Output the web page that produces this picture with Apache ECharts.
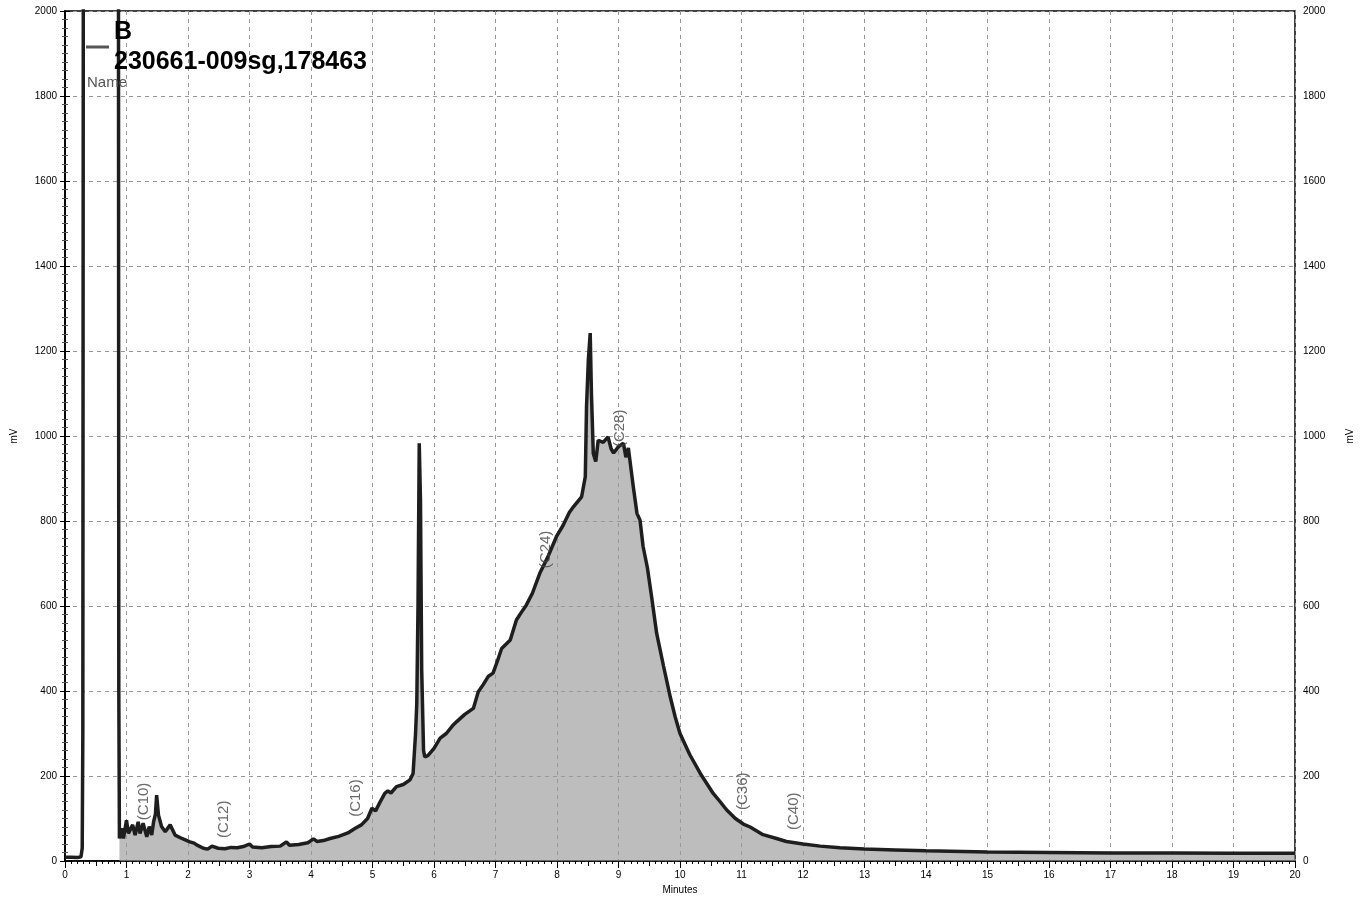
<!DOCTYPE html>
<html>
<head>
<meta charset="utf-8">
<script src="https://cdn.jsdelivr.net/npm/echarts@6/dist/echarts.min.js"></script>
<style>
html,body{margin:0;padding:0;background:#fff;}
#chart{width:1365px;height:900px;}
</style>
</head>
<body>
<div id="chart"></div>
<script>
// ---- data ----
const seriesName = '230661-009sg,178463';
const legendPrefix = 'B';
const noteText = 'Name';

// retention time (minutes)
const times = [
  0, 0.1, 0.2, 0.26, 0.28, 0.29, 0.31, 0.86, 0.875, 0.885,
  0.92, 0.95, 1.0, 1.03, 1.06, 1.1, 1.14, 1.19, 1.22, 1.25,
  1.27, 1.33, 1.37, 1.41, 1.44, 1.47, 1.49, 1.52, 1.57, 1.63,
  1.71, 1.79, 1.9, 2.03, 2.1, 2.14, 2.25, 2.32, 2.39, 2.49,
  2.6, 2.7, 2.8, 2.9, 3.0, 3.05, 3.2, 3.35, 3.5, 3.6,
  3.65, 3.8, 3.95, 4.04, 4.1, 4.2, 4.31, 4.45, 4.6, 4.72,
  4.82, 4.92, 4.99, 5.05, 5.12, 5.2, 5.25, 5.3, 5.39, 5.5,
  5.61, 5.66, 5.7, 5.72, 5.74, 5.76, 5.78, 5.8, 5.83, 5.85,
  5.9, 6.0, 6.1, 6.2, 6.3, 6.37, 6.5, 6.64, 6.72, 6.8,
  6.88, 6.96, 7.03, 7.1, 7.24, 7.34, 7.42, 7.5, 7.6, 7.72,
  7.85, 7.99, 8.1, 8.2, 8.27, 8.4, 8.46, 8.48, 8.51, 8.54,
  8.56, 8.59, 8.63, 8.67, 8.75, 8.83, 8.88, 8.92, 9.0, 9.08,
  9.12, 9.16, 9.24, 9.3, 9.35, 9.4, 9.47, 9.54, 9.62, 9.73,
  9.84, 9.92, 10.0, 10.16, 10.33, 10.54, 10.65, 10.76, 10.9, 11.03,
  11.14, 11.35, 11.57, 11.73, 12.0, 12.28, 12.6, 13, 13.5, 14,
  15, 16, 17, 18, 19, 20
];
// detector signal (mV); solvent peak is off-scale
const signal = [
  9, 9, 8, 10, 30, 300, 5000, 5000, 400, 53,
  77, 53, 96, 65, 62, 85, 61, 92, 65, 61,
  89, 57, 81, 61, 92, 110, 155, 108, 81, 69,
  85, 61, 53, 45, 42, 38, 30, 28, 35, 30,
  29, 32, 31, 34, 40, 33, 31, 34, 35, 45,
  37, 39, 43, 52, 46, 48, 53, 58, 66, 77,
  85, 100, 124, 118, 138, 159, 165, 160, 175, 180,
  191, 206, 300, 371, 600, 983, 850, 450, 260, 245,
  248, 265, 289, 300, 318, 328, 345, 359, 398, 415,
  434, 442, 470, 500, 520, 567, 585, 602, 630, 677,
  715, 763, 790, 820, 834, 857, 904, 1069, 1180, 1242,
  1100, 959, 940, 990, 985, 998, 970, 960, 975, 983,
  950, 972, 881, 818, 802, 740, 690, 620, 536, 460,
  387, 340, 300, 250, 206, 159, 140, 120, 100, 87,
  80, 62, 53, 46, 40, 35, 31, 28, 26, 24,
  21, 20, 19, 19, 18, 18
];

// peak annotations
const peakNames = ['(C10)', '(C12)', '(C16)', '(C24)', '(C28)', '(C36)', '(C40)'];
const peakTimes = [1.29, 2.58, 4.73, 7.82, 9.03, 11.02, 11.85];
const peakLabelMv = [96, 54, 104, 689, 974, 120, 73];

// axis ticks
const xMin = 0, xMax = 20, xStep = 1, xHalfStep = 0.5;
const yMin = 0, yMax = 2000, yStep = 200;

// ---- build ----
const curve = times.map((t, i) => [t, signal[i]]);
const areaPart = curve.filter(p => p[0] >= 0.885);
const peakPts = peakTimes.map((t, i) => ({ name: peakNames[i], value: [t, peakLabelMv[i]] }));

const FONT = '"Liberation Sans", Arial, sans-serif';
const chart = echarts.init(document.getElementById('chart'), null, { renderer: 'canvas' });
const plain = v => String(v);

const yAxisCommon = {
  type: 'value', min: yMin, max: yMax, interval: yStep,
  axisLine: { show: true, lineStyle: { color: '#000', width: 1.5 } },
  axisTick: { show: true, length: 5, lineStyle: { color: '#000' } },
  minorTick: { show: true, splitNumber: 10, length: 3, lineStyle: { color: '#555' } },
  minorSplitLine: { show: false },
  axisLabel: { color: '#000', fontSize: 10, fontFamily: FONT, margin: 8, formatter: plain },
  name: 'mV', nameLocation: 'middle', nameRotate: 90,
  nameTextStyle: { color: '#000', fontSize: 10, fontFamily: FONT }
};

chart.setOption({
  animation: false,
  backgroundColor: '#fff',
  title: [{
    text: noteText, left: 82, top: 70,
    textStyle: { fontSize: 15, fontWeight: 'normal', color: '#555', fontFamily: FONT }
  }],
  legend: {
    data: [seriesName],
    left: 81, top: 12,
    itemWidth: 23, itemHeight: 3,
    icon: 'rect',
    formatter: name => legendPrefix + '\n' + name,
    textStyle: { fontSize: 25, fontWeight: 'bold', color: '#000', fontFamily: FONT, lineHeight: 30 },
    itemStyle: { color: '#555' }
  },
  grid: { left: 65, right: 70, top: 11, bottom: 39, containLabel: false,
          show: true, borderColor: '#000', borderWidth: 1.5, backgroundColor: 'transparent' },
  xAxis: [{
    type: 'value', min: xMin, max: xMax, interval: xStep, position: 'bottom',
    axisLine: { show: true, onZero: false, lineStyle: { color: '#000', width: 1.5 } },
    axisTick: { show: true, length: 7, lineStyle: { color: '#000' } },
    minorTick: { show: true, splitNumber: 10, length: 3, lineStyle: { color: '#000' } },
    minorSplitLine: { show: false },
    axisLabel: { color: '#000', fontSize: 10, fontFamily: FONT, margin: 9, formatter: plain },
    splitLine: { show: true, lineStyle: { color: '#999', type: [4, 4], width: 1 } },
    name: 'Minutes', nameLocation: 'middle', nameGap: 21,
    nameTextStyle: { color: '#000', fontSize: 10, fontFamily: FONT }
  }, {
    type: 'value', min: xMin, max: xMax, interval: xHalfStep, position: 'bottom', offset: 0,
    axisLine: { show: false },
    axisTick: { show: true, length: 5, lineStyle: { color: '#000' } },
    minorTick: { show: false },
    axisLabel: { show: false },
    splitLine: { show: false }
  }],
  yAxis: [Object.assign({}, yAxisCommon, {
    position: 'left', nameGap: 46,
    splitLine: { show: true, lineStyle: { color: '#999', type: [4, 4], width: 1 } }
  }), Object.assign({}, yAxisCommon, {
    position: 'right', nameGap: 50,
    splitLine: { show: false }
  })],
  series: [{
    name: 'area', type: 'line', data: areaPart, xAxisIndex: 0, yAxisIndex: 0,
    showSymbol: false, silent: true, z: 1,
    lineStyle: { width: 0, opacity: 0 },
    areaStyle: { color: '#9a9a9a', opacity: 0.65 }
  }, {
    name: seriesName, type: 'line', data: curve, xAxisIndex: 0, yAxisIndex: 0,
    showSymbol: false, z: 3,
    lineStyle: { color: '#1e1e1e', width: 3.5 },
    itemStyle: { color: '#555' }
  }, {
    name: 'peaks', type: 'scatter', data: peakPts, xAxisIndex: 0, yAxisIndex: 0,
    symbolSize: 0.1, silent: true, z: 4,
    label: {
      show: true, position: 'inside', rotate: 90, align: 'left', verticalAlign: 'middle',
      formatter: p => p.name,
      color: '#444', fontSize: 15, fontFamily: FONT
    }
  }]
});
</script>
</body>
</html>
